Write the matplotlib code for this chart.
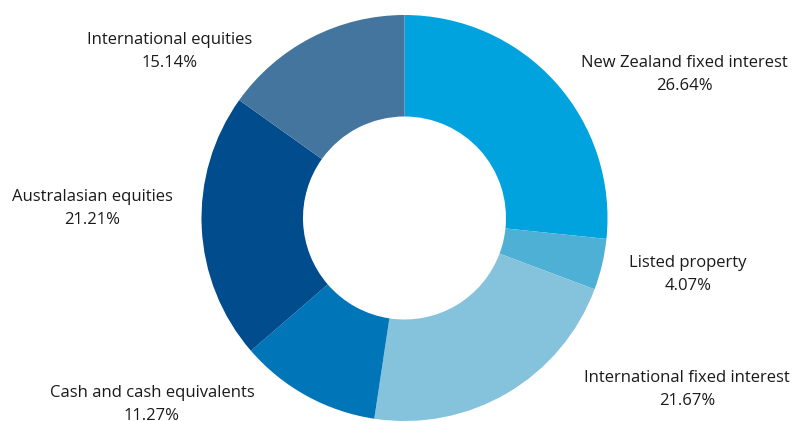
import matplotlib
matplotlib.use("Agg")
import matplotlib.pyplot as plt

# asset allocation, clockwise from 12 o'clock
categories = ["New Zealand fixed interest", "Listed property", "International fixed interest",
              "Cash and cash equivalents", "Australasian equities", "International equities"]
shares = [26.64, 4.07, 21.67, 11.27, 21.21, 15.14]
colours = ["#00a3de", "#4fb0d6", "#85c2dc", "#0075b8", "#004c8c", "#44759e"]

# label centres in pixel coords (x, y from top)
label_pos = [(684, 63), (688, 263), (687, 378), (152, 393), (92, 197), (170, 40)]

W, H = 795, 421
fig = plt.figure(figsize=(W / 100, H / 100), dpi=100)
ax = fig.add_axes([0, 0, 1, 1])

radius = 203
ax.pie(shares, colors=colours, startangle=90, counterclock=False,
       center=(404.5, H - 218), radius=radius,
       wedgeprops=dict(width=radius * 0.5, edgecolor="none"), frame=True)
ax.set_xlim(0, W)
ax.set_ylim(0, H)
ax.set_aspect("equal")
ax.axis("off")

for name, val, (x, y) in zip(categories, shares, label_pos):
    ax.text(x, H - y, name, ha="center", va="center", fontsize=12,
            family="Open Sans", color="#1a1a1a")
    ax.text(x, H - y - 23, f"{val:.2f}%", ha="center", va="center", fontsize=12,
            family="Open Sans", color="#1a1a1a")

fig.savefig("out.png", dpi=100)
